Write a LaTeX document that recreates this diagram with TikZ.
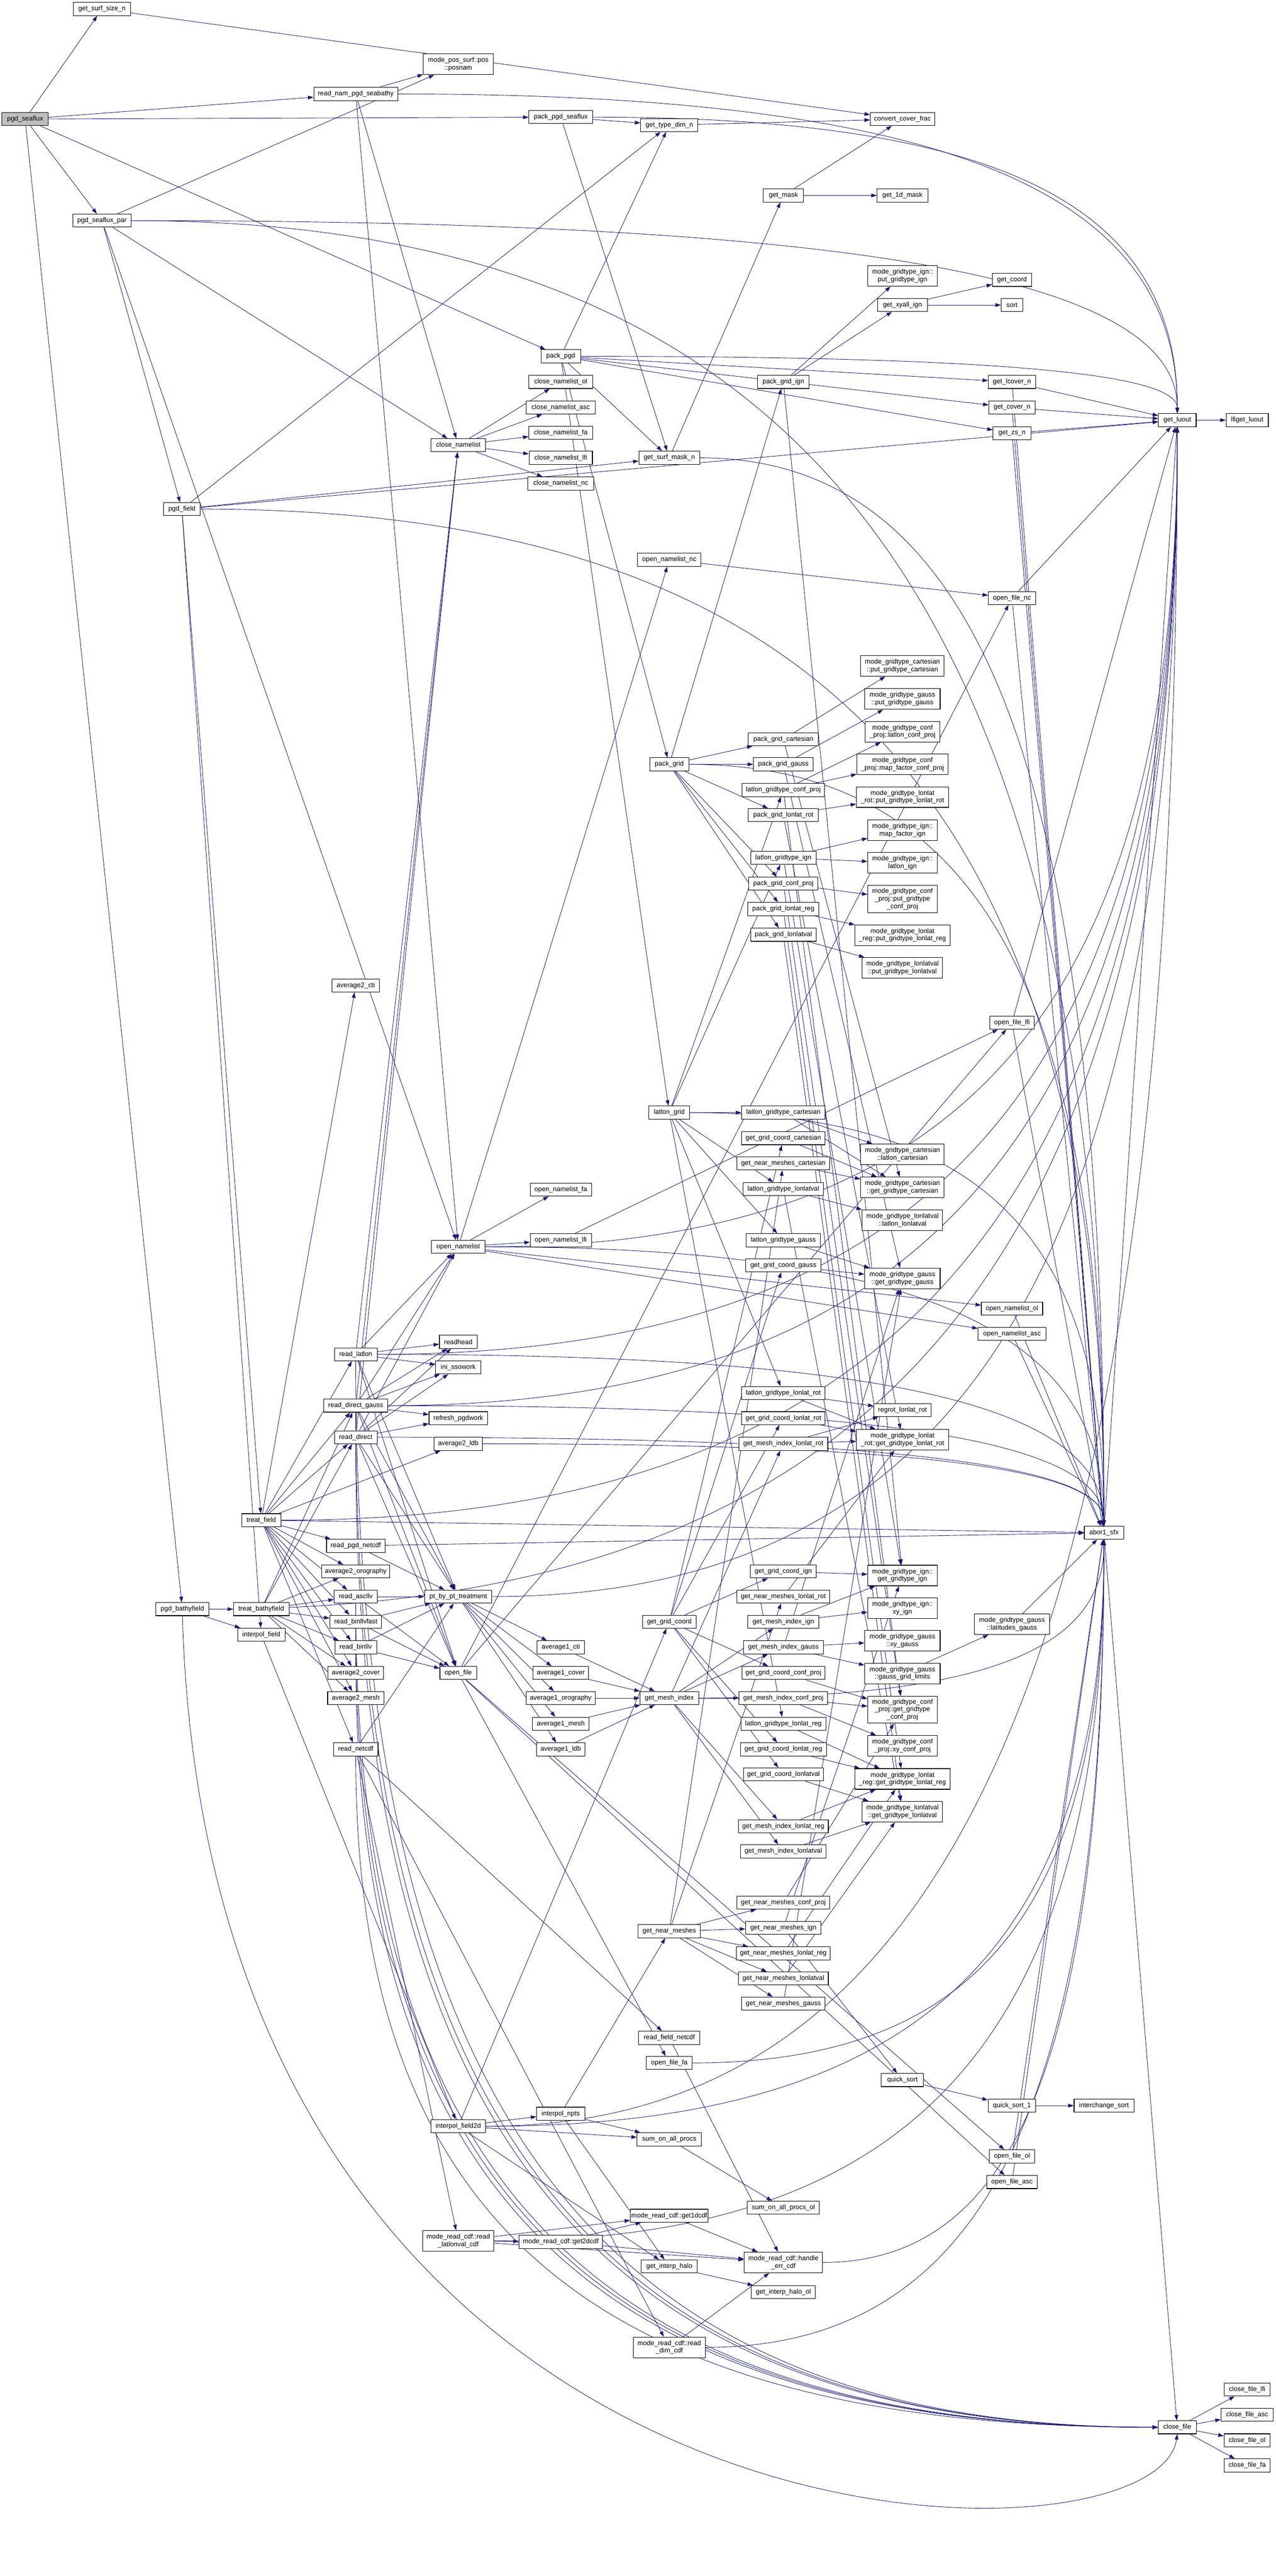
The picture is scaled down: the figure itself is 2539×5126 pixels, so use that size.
\documentclass[tikz,border=0pt]{standalone}
\usepackage{fontspec}
\setmainfont{Liberation Sans}
\usetikzlibrary{arrows.meta,calc}
\pgfdeclarelayer{bg}
\pgfsetlayers{bg,main}
\definecolor{edgec}{RGB}{25,25,112}
\newcommand{\nd}[5][]{\node[nbox,minimum width=#4pt,#1] (#2) at (#3) {#5};}
\begin{document}
\begin{tikzpicture}[x=1pt,y=-1pt,
  nbox/.style={draw=black,fill=white,line width=1.1pt,inner xsep=2pt,inner ysep=2pt,minimum height=26pt,align=center,font=\fontsize{13.3}{15}\selectfont},
  two/.style={minimum height=41pt},
  three/.style={minimum height=54pt},
  cedge/.style={draw=edgec,line width=0.9pt,-{Triangle[length=11pt,width=7.5pt]}}]
\useasboundingbox (0,0) rectangle (2539,5126);
% ---------- nodes ----------
\nd[fill=black!25]{pgdseaflux}{50,237}{92}{pgd\_seaflux}
\nd{sizen}{203,18}{113}{get\_surf\_size\_n}
\nd{seapar}{203,439}{116}{pgd\_seaflux\_par}
\nd{pgdfield}{362,1013}{73}{pgd\_field}
\nd{bathy}{363,3202}{106}{pgd\_bathyfield}
\nd{treatfield}{520,3025}{78}{treat\_field}
\nd{treatbathy}{520,3202}{111}{treat\_bathyfield}
\nd{interpolfield}{520,3253}{94}{interpol\_field}
\nd{readnam}{708,187}{167}{read\_nam\_pgd\_seabathy}
\nd{avg2cti}{708,1961}{94}{average2\_cti}
\nd{readlatlon}{708,2695}{85}{read\_latlon}
\nd{readdg}{708,2797}{127}{read\_direct\_gauss}
\nd{readdirect}{708,2860}{85}{read\_direct}
\nd{readpgdnc}{708,3076}{116}{read\_pgd\_netcdf}
\nd{avg2oro}{708,3127}{136}{average2\_orography}
\nd{readascllv}{708,3177}{86}{read\_ascllv}
\nd{readbinfast}{708,3227}{103}{read\_binllvfast}
\nd{readbinllv}{708,3278}{83}{read\_binllv}
\nd{avg2cover}{708,3329}{110}{average2\_cover}
\nd{avg2mesh}{708,3379}{112}{average2\_mesh}
\nd{readnetcdf}{708,3481}{89}{read\_netcdf}
\nd[two]{posnam}{912,128}{139}{mode\_pos\_surf::pos\\::posnam}
\nd{closenam}{912,886}{109}{close\_namelist}
\nd{opennam}{912,2481}{106}{open\_namelist}
\nd{readhead}{912,2670}{75}{readhead}
\nd{inisso}{912,2721}{90}{ini\_ssowork}
\nd{refresh}{912,2822}{116}{refresh\_pgdwork}
\nd{avg2ldb}{912,2873}{97}{average2\_ldb}
\nd{ptbypt}{912,3177}{134}{pt\_by\_pt\_treatment}
\nd{openfile}{912,3329}{73}{open\_file}
\nd{interp2d}{912,4231}{108}{interpol\_field2d}
\nd[two]{readllval}{912,4459}{142}{mode\_read\_cdf::read\\\_latlonval\_cdf}
\nd{packsea}{1116,233}{127}{pack\_pgd\_seaflux}
\nd{packpgd}{1116,709}{79}{pack\_pgd}
\nd{cnol}{1116,760}{127}{close\_namelist\_ol}
\nd{cnasc}{1116,811}{137}{close\_namelist\_asc}
\nd{cnfa}{1116,861}{127}{close\_namelist\_fa}
\nd{cnlfi}{1116,911}{126}{close\_namelist\_lfi}
\nd{cnnc}{1116,962}{131}{close\_namelist\_nc}
\nd{onfa}{1116,2367}{122}{open\_namelist\_fa}
\nd{onlfi}{1116,2468}{122}{open\_namelist\_lfi}
\nd{avg1cti}{1116,3278}{94}{average1\_cti}
\nd{avg1cover}{1116,3329}{110}{average1\_cover}
\nd{avg1oro}{1116,3379}{137}{average1\_orography}
\nd{avg1mesh}{1116,3430}{113}{average1\_mesh}
\nd{avg1ldb}{1116,3481}{97}{average1\_ldb}
\nd{npts}{1116,4206}{96}{interpol\_npts}
\nd{get2d}{1116,4461}{166}{mode\_read\_cdf::get2dcdf}
\nd{typedim}{1332,249}{114}{get\_type\_dim\_n}
\nd{surfmask}{1332,911}{121}{get\_surf\_mask\_n}
\nd{onnc}{1332,1114}{126}{open\_namelist\_nc}
\nd{packgrid}{1332,1521}{78}{pack\_grid}
\nd{latlongrid}{1332,2214}{81}{latlon\_grid}
\nd{gridcoord}{1332,3227}{107}{get\_grid\_coord}
\nd{meshindex}{1332,3379}{117}{get\_mesh\_index}
\nd{nearmeshes}{1332,3843}{124}{get\_near\_meshes}
\nd{readfieldnc}{1332,4055}{122}{read\_field\_netcdf}
\nd{ofa}{1332,4105}{91}{open\_file\_fa}
\nd{sumall}{1332,4257}{128}{sum\_on\_all\_procs}
\nd{get1d}{1332,4409}{145}{mode\_read\_cdf::get1dcdf}
\nd{halo}{1332,4510}{112}{get\_interp\_halo}
\nd[two]{readdim}{1332,4671}{144}{mode\_read\_cdf::read\\\_dim\_cdf}
\nd{getmask}{1559,389}{80}{get\_mask}
\nd{pgign}{1559,760}{103}{pack\_grid\_ign}
\nd{pgcart}{1559,1471}{139}{pack\_grid\_cartesian}
\nd{pggauss}{1559,1521}{119}{pack\_grid\_gauss}
\nd{lgconf}{1559,1572}{164}{latlon\_gridtype\_conf\_proj}
\nd{pglrot}{1559,1622}{139}{pack\_grid\_lonlat\_rot}
\nd{lgign}{1559,1707}{130}{latlon\_gridtype\_ign}
\nd{pgconf}{1559,1758}{137}{pack\_grid\_conf\_proj}
\nd{pglreg}{1559,1809}{142}{pack\_grid\_lonlat\_reg}
\nd{pglval}{1559,1860}{130}{pack\_grid\_lonlatval}
\nd{lgcart}{1559,2214}{166}{latlon\_gridtype\_cartesian}
\nd{gccart}{1559,2265}{166}{get\_grid\_coord\_cartesian}
\nd{nmcart}{1559,2315}{185}{get\_near\_meshes\_cartesian}
\nd{lglval}{1559,2366}{160}{latlon\_gridtype\_lonlatval}
\nd{lggauss}{1559,2468}{148}{latlon\_gridtype\_gauss}
\nd{gcgauss}{1559,2518}{150}{get\_grid\_coord\_gauss}
\nd{lglrot}{1559,2772}{166}{latlon\_gridtype\_lonlat\_rot}
\nd{gclrot}{1559,2822}{166}{get\_grid\_coord\_lonlat\_rot}
\nd{milrot}{1559,2873}{177}{get\_mesh\_index\_lonlat\_rot}
\nd{gcign}{1559,3127}{131}{get\_grid\_coord\_ign}
\nd{nmlrot}{1559,3177}{185}{get\_near\_meshes\_lonlat\_rot}
\nd{miign}{1559,3227}{141}{get\_mesh\_index\_ign}
\nd{migauss}{1559,3278}{159}{get\_mesh\_index\_gauss}
\nd{gcconf}{1559,3329}{165}{get\_grid\_coord\_conf\_proj}
\nd{miconf}{1559,3379}{176}{get\_mesh\_index\_conf\_proj}
\nd{lglreg}{1559,3430}{169}{latlon\_gridtype\_lonlat\_reg}
\nd{gclreg}{1559,3481}{171}{get\_grid\_coord\_lonlat\_reg}
\nd{gclval}{1559,3531}{159}{get\_grid\_coord\_lonlatval}
\nd{milreg}{1559,3634}{179}{get\_mesh\_index\_lonlat\_reg}
\nd{milval}{1559,3684}{170}{get\_mesh\_index\_lonlatval}
\nd{nmconf}{1559,3786}{184}{get\_near\_meshes\_conf\_proj}
\nd{nmign}{1559,3836}{150}{get\_near\_meshes\_ign}
\nd{nmlreg}{1559,3887}{187}{get\_near\_meshes\_lonlat\_reg}
\nd{nmlval}{1559,3937}{179}{get\_near\_meshes\_lonlatval}
\nd{nmgauss}{1559,3987}{166}{get\_near\_meshes\_gauss}
\nd{sumallol}{1559,4393}{143}{sum\_on\_all\_procs\_ol}
\nd[two]{handleerr}{1559,4502}{156}{mode\_read\_cdf::handle\\\_err\_cdf}
\nd{halool}{1559,4561}{127}{get\_interp\_halo\_ol}
\nd{convfrac}{1796,237}{128}{convert\_cover\_frac}
\nd{get1dmask}{1796,389}{101}{get\_1d\_mask}
\nd[two]{putign}{1796,549}{138}{mode\_gridtype\_ign::\\put\_gridtype\_ign}
\nd{xyall}{1796,607}{99}{get\_xyall\_ign}
\nd[two]{putcart}{1796,1325}{166}{mode\_gridtype\_cartesian\\::put\_gridtype\_cartesian}
\nd[two]{putgauss}{1796,1391}{150}{mode\_gridtype\_gauss\\::put\_gridtype\_gauss}
\nd[two]{llconf}{1796,1456}{148}{mode\_gridtype\_conf\\\_proj::latlon\_conf\_proj}
\nd[two]{mfconf}{1796,1521}{181}{mode\_gridtype\_conf\\\_proj::map\_factor\_conf\_proj}
\nd[two]{putlrot}{1796,1586}{183}{mode\_gridtype\_lonlat\\\_rot::put\_gridtype\_lonlat\_rot}
\nd[two]{mfign}{1796,1652}{138}{mode\_gridtype\_ign::\\map\_factor\_ign}
\nd[two]{llign}{1796,1717}{138}{mode\_gridtype\_ign::\\latlon\_ign}
\nd[three]{putconf}{1796,1789}{138}{mode\_gridtype\_conf\\\_proj::put\_gridtype\\\_conf\_proj}
\nd[two]{putlreg}{1796,1861}{189}{mode\_gridtype\_lonlat\\\_reg::put\_gridtype\_lonlat\_reg}
\nd[two]{putlval}{1796,1926}{160}{mode\_gridtype\_lonlatval\\::put\_gridtype\_lonlatval}
\nd[two]{llcart}{1796,2297}{166}{mode\_gridtype\_cartesian\\::latlon\_cartesian}
\nd[two]{getcart}{1796,2363}{166}{mode\_gridtype\_cartesian\\::get\_gridtype\_cartesian}
\nd[two]{lllval}{1796,2428}{160}{mode\_gridtype\_lonlatval\\::latlon\_lonlatval}
\nd[two]{getgauss}{1796,2544}{150}{mode\_gridtype\_gauss\\::get\_gridtype\_gauss}
\nd{regrot}{1796,2806}{114}{regrot\_lonlat\_rot}
\nd[two]{getlrot}{1796,2865}{183}{mode\_gridtype\_lonlat\\\_rot::get\_gridtype\_lonlat\_rot}
\nd[two]{getign}{1796,3135}{138}{mode\_gridtype\_ign::\\get\_gridtype\_ign}
\nd[two]{xyign}{1796,3200}{138}{mode\_gridtype\_ign::\\xy\_ign}
\nd[two]{xygauss}{1796,3265}{150}{mode\_gridtype\_gauss\\::xy\_gauss}
\nd[two]{ggl}{1796,3330}{150}{mode\_gridtype\_gauss\\::gauss\_grid\_limits}
\nd[three]{getconf}{1796,3402}{138}{mode\_gridtype\_conf\\\_proj::get\_gridtype\\\_conf\_proj}
\nd[two]{xyconf}{1796,3474}{138}{mode\_gridtype\_conf\\\_proj::xy\_conf\_proj}
\nd[two]{getlreg}{1796,3540}{189}{mode\_gridtype\_lonlat\\\_reg::get\_gridtype\_lonlat\_reg}
\nd[two]{getlval}{1796,3605}{160}{mode\_gridtype\_lonlatval\\::get\_gridtype\_lonlatval}
\nd{qsort}{1796,4139}{84}{quick\_sort}
\nd{getcoord}{2014,557}{78}{get\_coord}
\nd{sortn}{2014,607}{43}{sort}
\nd{lcover}{2014,760}{94}{get\_lcover\_n}
\nd{covern}{2014,811}{92}{get\_cover\_n}
\nd{zsn}{2014,862}{75}{get\_zs\_n}
\nd{ofnc}{2014,1190}{94}{open\_file\_nc}
\nd{oflfi}{2014,2035}{89}{open\_file\_lfi}
\nd{onol}{2014,2604}{122}{open\_namelist\_ol}
\nd{onasc}{2014,2654}{135}{open\_namelist\_asc}
\nd[two]{latgauss}{2014,3232}{150}{mode\_gridtype\_gauss\\::latitudes\_gauss}
\nd{qsort1}{2014,4190}{95}{quick\_sort\_1}
\nd{ofol}{2014,4291}{91}{open\_file\_ol}
\nd{ofasc}{2014,4342}{101}{open\_file\_asc}
\nd{abor}{2197,3050}{78}{abor1\_sfx}
\nd{isort}{2197,4190}{119}{interchange\_sort}
\nd{luout}{2343,836}{75}{get\_luout}
\nd{closefile}{2343,4830}{76}{close\_file}
\nd{lfiget}{2482,836}{84}{lfiget\_luout}
\nd{cflfi}{2482,4755}{92}{close\_file\_lfi}
\nd{cfasc}{2482,4805}{104}{close\_file\_asc}
\nd{cfol}{2482,4856}{92}{close\_file\_ol}
\nd{cffa}{2482,4906}{92}{close\_file\_fa}
% ---------- edges ----------
\begin{pgfonlayer}{bg}
\fill[white] (0,0) rectangle (2539,5126);
\foreach \a/\b in {pgdseaflux/sizen, pgdseaflux/readnam, pgdseaflux/seapar, pgdseaflux/packsea, pgdseaflux/packpgd, pgdseaflux/bathy,
  sizen/convfrac, readnam/posnam, readnam/opennam, readnam/closenam,
  seapar/posnam, seapar/opennam, seapar/closenam, seapar/pgdfield,
  packsea/typedim, packsea/surfmask,
  packpgd/typedim, packpgd/lcover, packpgd/covern, packpgd/zsn, packpgd/surfmask, packpgd/packgrid, packpgd/latlongrid,
  typedim/convfrac, surfmask/getmask, getmask/convfrac, getmask/get1dmask,
  lcover/luout, covern/luout, zsn/luout, luout/lfiget,
  closenam/cnol, closenam/cnasc, closenam/cnfa, closenam/cnlfi, closenam/cnnc,
  pgdfield/typedim, pgdfield/luout, pgdfield/surfmask, pgdfield/treatfield, pgdfield/interpolfield,
  bathy/treatbathy, bathy/interpolfield,
  treatfield/readpgdnc, treatfield/avg2oro, treatfield/readascllv, treatfield/readbinfast, treatfield/readbinllv, treatfield/avg2cover, treatfield/avg2mesh, treatfield/readnetcdf, treatfield/readlatlon, treatfield/readdg, treatfield/readdirect, treatfield/avg2cti, treatfield/avg2ldb, treatfield/abor,
  treatbathy/readascllv, treatbathy/readbinfast, treatbathy/readbinllv, treatbathy/avg2oro, treatbathy/avg2cover, treatbathy/avg2mesh, treatbathy/readdg, treatbathy/readdirect,
  interpolfield/interp2d,
  interp2d/npts, interp2d/sumall, interp2d/gridcoord, interp2d/halo,
  npts/nearmeshes, npts/sumall, npts/halo, halo/halool, sumall/sumallol,
  readllval/get2d, readllval/get1d, readllval/handleerr,
  get2d/get1d, get2d/handleerr, get1d/handleerr, readdim/handleerr, readfieldnc/handleerr,
  readnetcdf/readllval, readnetcdf/readdim, readnetcdf/readfieldnc, readnetcdf/ptbypt,
  readpgdnc/abor, readpgdnc/ptbypt,
  readascllv/ptbypt, readascllv/openfile, readbinfast/ptbypt, readbinfast/openfile, readbinllv/ptbypt, readbinllv/openfile,
  readlatlon/readhead, readlatlon/inisso, readlatlon/opennam, readlatlon/closenam, readlatlon/openfile, readlatlon/ptbypt,
  readdg/readhead, readdg/inisso, readdg/refresh, readdg/opennam, readdg/closenam, readdg/openfile, readdg/ptbypt,
  readdirect/readhead, readdirect/inisso, readdirect/refresh, readdirect/opennam, readdirect/closenam, readdirect/openfile, readdirect/ptbypt,
  ptbypt/avg1cti, ptbypt/avg1cover, ptbypt/avg1oro, ptbypt/avg1mesh, ptbypt/avg1ldb,
  avg1cti/meshindex, avg1cover/meshindex, avg1oro/meshindex, avg1mesh/meshindex, avg1ldb/meshindex,
  opennam/onfa, opennam/onlfi, opennam/onnc, opennam/onol, opennam/onasc,
  onlfi/oflfi, onnc/ofnc,
  openfile/ofa, openfile/oflfi, openfile/ofnc, openfile/ofol, openfile/ofasc,
  closefile/cflfi, closefile/cfasc, closefile/cfol, closefile/cffa,
  abor/closefile, abor/luout,
  lcover/abor, covern/abor, zsn/abor, ofnc/luout, oflfi/luout, ofnc/abor, oflfi/abor, onol/abor, onasc/abor, ofol/abor, ofasc/abor,
  packgrid/pgign, packgrid/pgcart, packgrid/pggauss, packgrid/pglrot, packgrid/pgconf, packgrid/pglreg, packgrid/pglval,
  pgign/putign, pgign/xyall, pgign/getign, xyall/getcoord, xyall/sortn,
  pgcart/putcart, pgcart/getcart, pggauss/putgauss, pggauss/getgauss, pglrot/putlrot, pglrot/getlrot,
  pgconf/putconf, pgconf/getconf, pglreg/putlreg, pglreg/getlreg, pglval/putlval, pglval/getlval,
  lgconf/llconf, lgconf/mfconf, lgconf/getconf, lgign/mfign, lgign/llign, lgign/getign,
  lgcart/llcart, lgcart/getcart, lglval/lllval, lglval/getlval, lggauss/getgauss,
  lglrot/regrot, lglrot/getlrot, lglreg/getlreg,
  latlongrid/lgcart, latlongrid/lgconf, latlongrid/lgign, latlongrid/lglval, latlongrid/lggauss, latlongrid/lglrot, latlongrid/lglreg,
  gridcoord/gccart, gridcoord/gcgauss, gridcoord/gclrot, gridcoord/gcign, gridcoord/gcconf, gridcoord/gclreg, gridcoord/gclval,
  meshindex/milrot, meshindex/miign, meshindex/migauss, meshindex/miconf, meshindex/milreg, meshindex/milval,
  nearmeshes/nmcart, nearmeshes/nmlrot, nearmeshes/nmconf, nearmeshes/nmign, nearmeshes/nmlreg, nearmeshes/nmlval, nearmeshes/nmgauss,
  gccart/getcart, nmcart/getcart, gcgauss/getgauss, gclrot/getlrot, milrot/regrot, milrot/getlrot,
  gcign/getign, nmlrot/getlrot, miign/xyign, miign/getign, migauss/xygauss, migauss/ggl, migauss/getgauss,
  ggl/latgauss, latgauss/abor,
  gcconf/getconf, miconf/getconf, miconf/xyconf, gclreg/getlreg, gclval/getlval, milreg/getlreg, milval/getlval,
  nmconf/getconf, nmign/getign, nmign/qsort, nmlreg/getlreg, nmlval/getlval, nmgauss/getgauss,
  qsort/qsort1, qsort1/isort}
  \draw[cedge] (\a) -- (\b);
\foreach \a in {readnam,seapar,packsea,packpgd}
  \draw[cedge] let \p1=(\a.east), \p2=(luout.north) in (\p1) .. controls ({\x1+0.7*(\x2-\x1)},\y1) and (\x2,{\y2+0.7*(\y1-\y2)}) .. (\p2);
\foreach \a in {bathy,treatfield,opennam,readlatlon,readdg,ptbypt,interp2d}
  \draw[cedge] let \p1=(\a.east), \p2=(luout.south) in (\p1) .. controls ({\x1+0.7*(\x2-\x1)},\y1) and (\x2,{\y2+0.7*(\y1-\y2)}) .. (\p2);
\foreach \a in {seapar,surfmask,pgdfield,packgrid,latlongrid,opennam,readlatlon,readdg,readdirect,avg2ldb}
  \draw[cedge] let \p1=(\a.east), \p2=(abor.north) in (\p1) .. controls ({\x1+0.7*(\x2-\x1)},\y1) and (\x2,{\y2+0.7*(\y1-\y2)}) .. (\p2);
\foreach \a in {meshindex,interp2d,readllval,readdim,handleerr,ofa}
  \draw[cedge] let \p1=(\a.east), \p2=(abor.south) in (\p1) .. controls ({\x1+0.7*(\x2-\x1)},\y1) and (\x2,{\y2+0.7*(\y1-\y2)}) .. (\p2);
\foreach \a in {readascllv,readbinfast,readbinllv,readlatlon,readdirect,readdg,readnetcdf}
  \draw[cedge] let \p1=(\a.south), \p2=(closefile.west) in (\p1) .. controls (\x1,{\y1+0.7*(\y2-\y1)}) and ({\x2+0.7*(\x1-\x2)},\y2) .. (\p2);
\draw[cedge] (bathy.south) .. controls (420,5140) and (2300,5140) .. (closefile.south);
\end{pgfonlayer}
\end{tikzpicture}
\end{document}
